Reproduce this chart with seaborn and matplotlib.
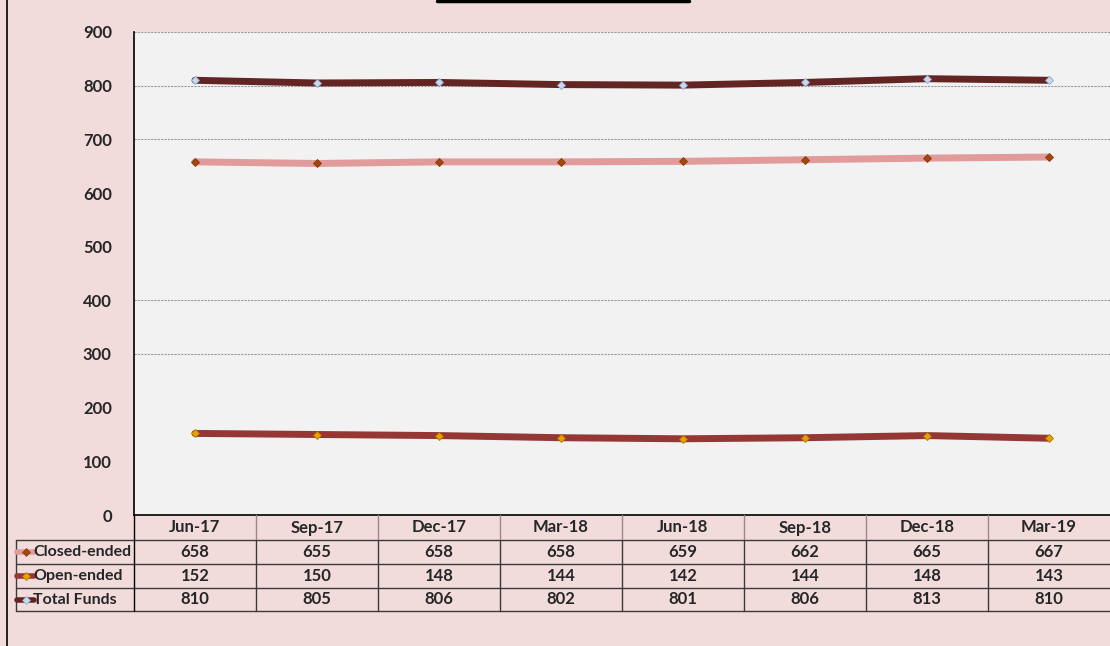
import numpy as np
import pandas as pd
import matplotlib
matplotlib.use("Agg")
import matplotlib.pyplot as plt
import seaborn as sns
from matplotlib.lines import Line2D

# data
quarters = ["Jun-17", "Sep-17", "Dec-17", "Mar-18", "Jun-18", "Sep-18", "Dec-18", "Mar-19"]
closed_ended = [658, 655, 658, 658, 659, 662, 665, 667]
open_ended = [152, 150, 148, 144, 142, 144, 148, 143]
total_funds = [810, 805, 806, 802, 801, 806, 813, 810]
series_names = ["Closed-ended", "Open-ended", "Total Funds"]
y_ticks = [0, 100, 200, 300, 400, 500, 600, 700, 800, 900]
grid_values = [300, 400, 700, 800, 900]

series = [closed_ended, open_ended, total_funds]
line_cols = ["#E09B9A", "#953735", "#632523"]
mark_face = ["#A0480F", "#E6A100", "#C6D9F1"]
mark_edge = ["#8A3A0A", "#B07800", "#8FA8C8"]

sns.set_style("white")
plt.rcParams['font.family'] = ['Lato', 'DejaVu Sans']
plt.rcParams['font.weight'] = 'bold'
FS = 12

W, H = 1110, 646
fig = plt.figure(figsize=(W / 100, H / 100), dpi=100)
fig.patch.set_facecolor("#F2DCDB")

x0, x1, ytop, ybot = 134, 1110, 32, 515
ax = fig.add_axes([x0 / W, 1 - ybot / H, (x1 - x0) / W, (ybot - ytop) / H])
ax.set_facecolor("#F2F2F2")

xs = np.arange(len(quarters))
for name, vals, lc, mf, me in zip(series_names, series, line_cols, mark_face, mark_edge):
    df = pd.DataFrame({"x": xs, "y": vals})
    sns.lineplot(data=df, x="x", y="y", ax=ax, color=lc, linewidth=5,
                 marker="D", markersize=4.5, markerfacecolor=mf,
                 markeredgecolor=me, markeredgewidth=0.6, zorder=3)

ax.set_xlim(-0.5, len(quarters) - 0.5)
ax.set_ylim(0, 900)
ax.set_yticks(y_ticks)
ax.set_yticklabels([str(v) for v in y_ticks], fontsize=FS, fontweight="bold")
ax.tick_params(axis="y", length=0, pad=16)
ax.set_xticks([])
ax.set_xlabel("")
ax.set_ylabel("")
for v in grid_values:
    ax.axhline(v, color="#9A9A9A", linestyle=(0, (2, 1)), linewidth=0.8, zorder=1)
for s in ["top", "right"]:
    ax.spines[s].set_visible(False)
ax.spines["left"].set_color("black")
ax.spines["left"].set_linewidth(1.2)
ax.spines["bottom"].set_color("black")
ax.spines["bottom"].set_linewidth(1.2)


# helpers in pixel coords
def fx(px):
    return px / W


def fy(py):
    return 1 - py / H


def hline(xa, xb, py, col="#3A3A3A", lw=1.0):
    fig.add_artist(Line2D([fx(xa), fx(xb)], [fy(py), fy(py)], color=col, lw=lw))


def vline(px, ya, yb, col="#3A3A3A", lw=1.0):
    fig.add_artist(Line2D([fx(px), fx(px)], [fy(ya), fy(yb)], color=col, lw=lw))


# outer border on left and title box remnant
vline(7, 0, 646, col="black", lw=1.2)
hline(437, 689, 1, col="black", lw=2.5)

# data table
col_w = (x1 - x0) / len(quarters)
row_y = [515, 540, 564, 588, 611]
tbl_left = 16
hline(tbl_left, x1, 540)
hline(tbl_left, x1, 564)
hline(tbl_left, x1, 588)
hline(tbl_left, x1, 611)
vline(tbl_left, 540, 611)
vline(x0, 515, 611, col="black")
for i in range(1, len(quarters)):
    xp = x0 + i * col_w
    vline(xp, 515, 540, col="#9A8A8A")
    vline(xp, 540, 611)

for i, q in enumerate(quarters):
    cx = x0 + (i + 0.5) * col_w
    fig.text(fx(cx), fy((row_y[0] + row_y[1]) / 2), q, ha="center", va="center",
             fontsize=FS, fontweight="bold")
    for r, vals in enumerate(series):
        fig.text(fx(cx), fy((row_y[r + 1] + row_y[r + 2]) / 2), str(vals[i]),
                 ha="center", va="center", fontsize=FS, fontweight="bold")

for r, (name, lc, mf, me) in enumerate(zip(series_names, line_cols, mark_face, mark_edge)):
    cy = (row_y[r + 1] + row_y[r + 2]) / 2
    fig.add_artist(Line2D([fx(17), fx(34)], [fy(cy), fy(cy)], color=lc, lw=4))
    fig.add_artist(Line2D([fx(25.5)], [fy(cy)], marker="D", markersize=4,
                          markerfacecolor=mf, markeredgecolor=me, markeredgewidth=0.5))
    fig.text(fx(33), fy(cy), name, ha="left", va="center", fontsize=11.5, fontweight="bold")

fig.savefig("out.png", dpi=100, facecolor=fig.get_facecolor())
